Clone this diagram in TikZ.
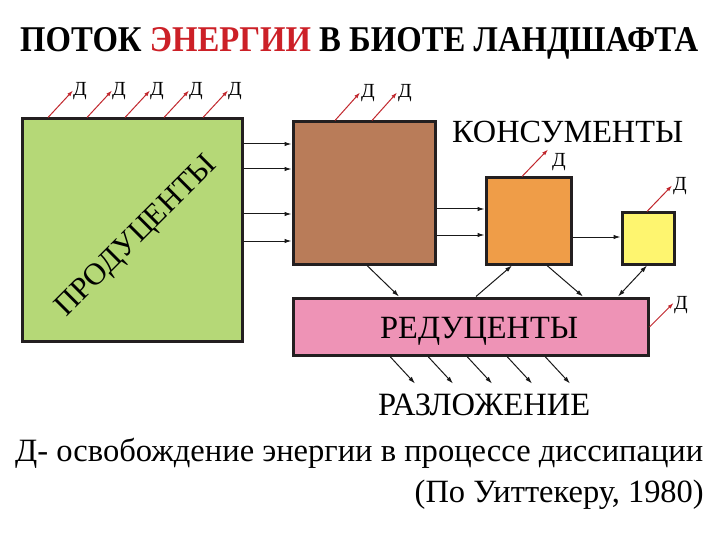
\documentclass[tikz,border=0pt]{standalone}
\usepackage{fontspec}
\setmainfont{Liberation Serif}
\usetikzlibrary{arrows.meta}
\definecolor{prodgreen}{HTML}{B5D877}
\definecolor{consbrown}{HTML}{B97C59}
\definecolor{consorange}{HTML}{EF9D48}
\definecolor{consyellow}{HTML}{FEF56F}
\definecolor{redpink}{HTML}{EE93B6}
\definecolor{titlered}{HTML}{CC2027}
\definecolor{arrowred}{HTML}{C1272D}
\definecolor{boxline}{HTML}{231F20}
\begin{document}
\begin{tikzpicture}[x=1pt,y=-1pt,
  box/.style={draw=boxline,line width=3pt,inner sep=0pt},
  arr/.style={draw=black!90,line width=1pt,-{Latex[length=7pt,width=4.5pt]}},
  arrtwo/.style={draw=black!90,line width=1pt,{Latex[length=7pt,width=4.5pt]}-{Latex[length=7pt,width=4.5pt]}},
  rarr/.style={draw=arrowred,line width=1pt,-{Latex[length=6pt,width=4pt]}},
  dlab/.style={inner sep=0pt,font=\fontsize{20}{20}\selectfont},
  txt/.style={inner sep=0pt}]
\useasboundingbox (0,0) rectangle (720,540);
\fill[white] (0,0) rectangle (720,540);

% title
\node[txt,anchor=base west] (title) at (20,52)
  {\resizebox{678pt}{24pt}{\bfseries ПОТОК \textcolor{titlered}{ЭНЕРГИИ} В БИОТЕ ЛАНДШАФТА}};

% boxes
\node[box,fill=prodgreen,minimum width=220pt,minimum height=222pt] (prod) at (132,230) {};
\node[box,fill=consbrown,minimum width=142pt,minimum height=142pt] (cons1) at (364,193) {};
\node[box,fill=consorange,minimum width=85pt,minimum height=86pt] (cons2) at (528.5,221) {};
\node[box,fill=consyellow,minimum width=52pt,minimum height=51pt] (cons3) at (648,238.5) {};
\node[box,fill=redpink,minimum width=355pt,minimum height=57pt] (red) at (470.5,326.5) {};

% texts
\node[txt,rotate=45,font=\fontsize{31}{31}\selectfont] (prodtext) at (137,237) {ПРОДУЦЕНТЫ};
\node[txt,anchor=base west] (constext) at (452,143) {\resizebox{231pt}{!}{КОНСУМЕНТЫ}};
\node[txt,anchor=base west] (redtext) at (380,338) {\resizebox{198pt}{!}{РЕДУЦЕНТЫ}};
\node[txt,anchor=base west] (razl) at (378,415) {\resizebox{212pt}{!}{РАЗЛОЖЕНИЕ}};
\node[txt,anchor=base west] (note) at (15,461) {\resizebox{688pt}{!}{Д- освобождение энергии в процессе диссипации}};
\node[txt,anchor=base east] (src) at (704,502) {\resizebox{289pt}{!}{(По Уиттекеру, 1980)}};

% black flow arrows
\foreach \yy in {144,169,214,241}
  \draw[arr] (prod.east |- 0,\yy) -- (cons1.west |- 0,\yy);
\foreach \yy in {209,235}
  \draw[arr] (cons1.east |- 0,\yy) -- (cons2.west |- 0,\yy);
\draw[arr] (cons2.east |- 0,237) -- (cons3.west |- 0,237);
\draw[arr] (cons1.south -| 367,0) -- (red.north -| 399,0);
\draw[arr] (red.north -| 476,0) -- (cons2.south -| 512,0);
\draw[arr] (cons2.south -| 547,0) -- (red.north -| 583,0);
\draw[arrtwo] (cons3.south -| 647,0) -- (red.north -| 618,0);
\foreach \xx [count=\i] in {390,428,467,507,545}
  \draw[arr] (red.south -| \xx,0) -- ++(25,27) coordinate (dn\i);

% red dissipation arrows
\foreach \xx [count=\i] in {48,87,125,164,203}{
  \draw[rarr] (prod.north -| \xx,0) -- ++(25,-27) coordinate (pe\i);
  \node[dlab,anchor=west] (dp\i) at ([yshift=-1pt]pe\i) {Д};
}
\foreach \xx [count=\i] in {335,372}{
  \draw[rarr] (cons1.north -| \xx,0) -- ++(25,-28) coordinate (ce\i);
  \node[dlab,anchor=west] (dc\i) at ([xshift=1pt,yshift=-1pt]ce\i) {Д};
}
\draw[rarr] (cons2.north -| 522,0) -- ++(26,-27) coordinate (oe);
\node[dlab,anchor=west] (do) at (552,162) {Д};
\draw[rarr] (cons3.north -| 647,0) -- ++(25,-26) coordinate (ye);
\node[dlab,anchor=west] (dy) at (673,186) {Д};
\draw[rarr] (red.east |- 0,327) -- ++(24,-24) coordinate (re);
\node[dlab,anchor=west] (dr) at (674,305) {Д};
\end{tikzpicture}
\end{document}
